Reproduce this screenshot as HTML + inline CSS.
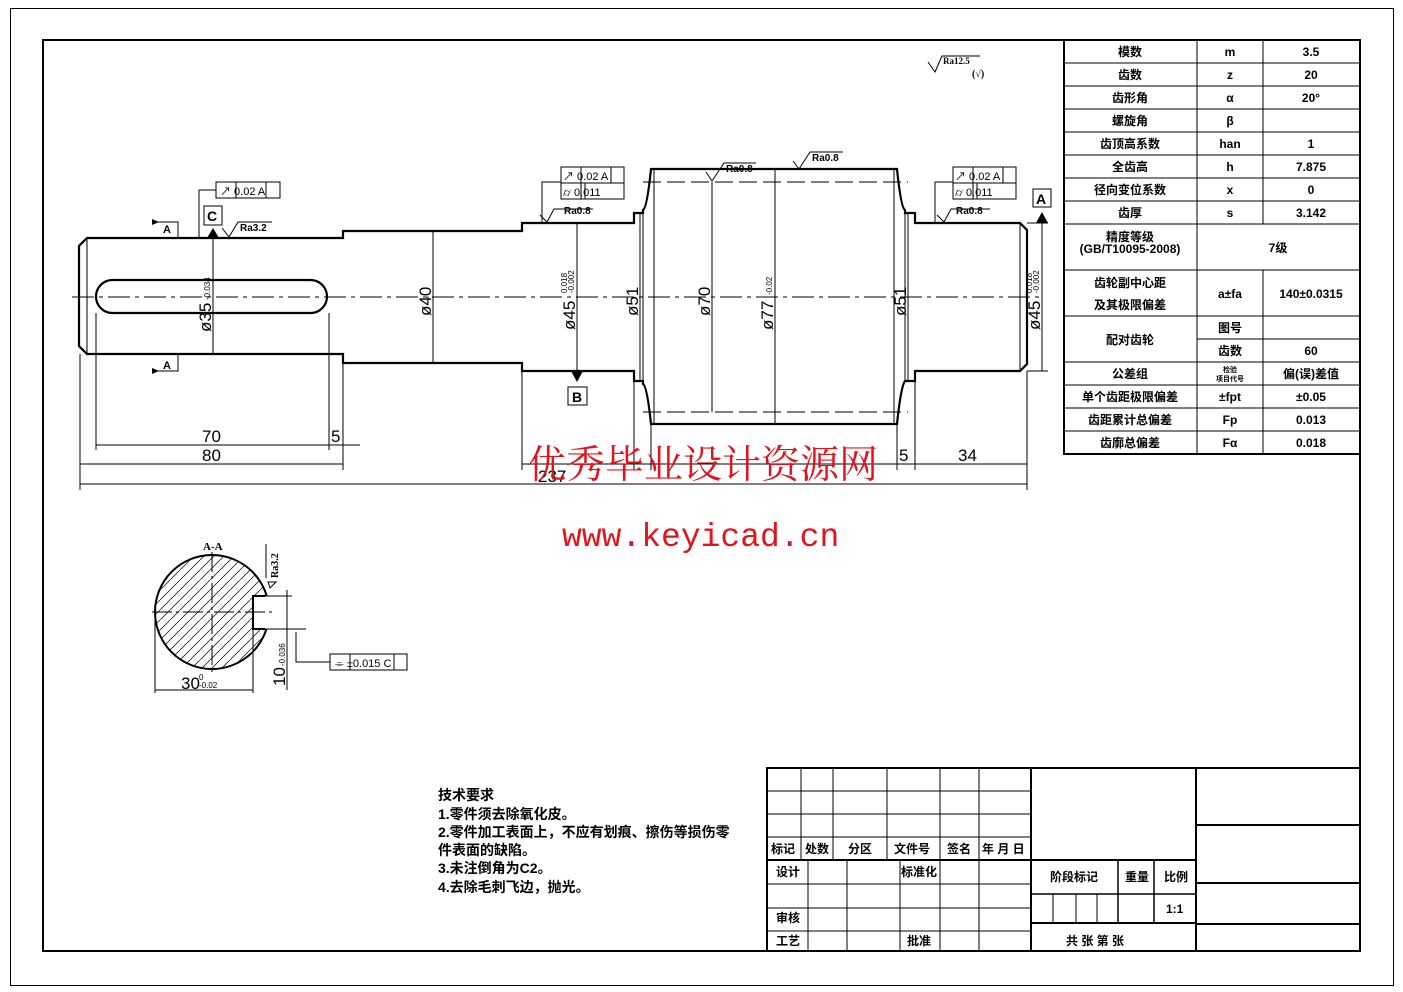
<!DOCTYPE html>
<html><head><meta charset="utf-8"><style>
html,body{margin:0;padding:0;background:#fff}
svg{display:block}
text{font-family:"Liberation Sans","Noto Sans CJK SC",sans-serif;fill:#000}
.b{font-weight:bold;font-family:"Liberation Serif","Noto Serif CJK SC","Noto Sans CJK SC",serif}
.t{font-size:12px;font-weight:bold;font-family:"Liberation Serif","Noto Sans CJK SC",sans-serif}
.d{font-size:17px}
</style></head><body>
<svg width="1403" height="992" viewBox="0 0 1403 992" xmlns="http://www.w3.org/2000/svg">
<rect x="0" y="0" width="1403" height="992" fill="#fff"/>
<rect x="10.5" y="8.5" width="1383" height="977" fill="none" stroke="#000" stroke-width="1"/>
<rect x="43" y="40" width="1317" height="911" fill="none" stroke="#000" stroke-width="2"/>

<!-- gear table -->
<g stroke="#000" fill="none">
<rect x="1064" y="40" width="296" height="414" stroke-width="2"/>
<g stroke-width="1">
<line x1="1197" y1="40" x2="1197" y2="454"/>
<line x1="1263" y1="40" x2="1263" y2="224"/>
<line x1="1263" y1="270" x2="1263" y2="454"/>
<line x1="1064" y1="63" x2="1360" y2="63"/><line x1="1064" y1="86" x2="1360" y2="86"/>
<line x1="1064" y1="109" x2="1360" y2="109"/><line x1="1064" y1="132" x2="1360" y2="132"/>
<line x1="1064" y1="155" x2="1360" y2="155"/><line x1="1064" y1="178" x2="1360" y2="178"/>
<line x1="1064" y1="201" x2="1360" y2="201"/><line x1="1064" y1="224" x2="1360" y2="224"/>
<line x1="1064" y1="270" x2="1360" y2="270"/><line x1="1064" y1="316" x2="1360" y2="316"/>
<line x1="1197" y1="339" x2="1360" y2="339"/><line x1="1064" y1="362" x2="1360" y2="362"/>
<line x1="1064" y1="385" x2="1360" y2="385"/><line x1="1064" y1="408" x2="1360" y2="408"/>
<line x1="1064" y1="431" x2="1360" y2="431"/>
</g></g>
<g class="t" text-anchor="middle">
<text x="1130" y="56">模数</text><text x="1230" y="56">m</text><text x="1311" y="56">3.5</text>
<text x="1130" y="79">齿数</text><text x="1230" y="79">z</text><text x="1311" y="79">20</text>
<text x="1130" y="102">齿形角</text><text x="1230" y="102">α</text><text x="1311" y="102">20°</text>
<text x="1130" y="125">螺旋角</text><text x="1230" y="125">β</text>
<text x="1130" y="148">齿顶高系数</text><text x="1230" y="148">han</text><text x="1311" y="148">1</text>
<text x="1130" y="171">全齿高</text><text x="1230" y="171">h</text><text x="1311" y="171">7.875</text>
<text x="1130" y="194">径向变位系数</text><text x="1230" y="194">x</text><text x="1311" y="194">0</text>
<text x="1130" y="217">齿厚</text><text x="1230" y="217">s</text><text x="1311" y="217">3.142</text>
<text x="1130" y="241">精度等级</text><text x="1130" y="253">(GB/T10095-2008)</text><text x="1278" y="252">7级</text>
<text x="1130" y="287">齿轮副中心距</text><text x="1130" y="309">及其极限偏差</text>
<text x="1230" y="298">a±fa</text><text x="1311" y="298">140±0.0315</text>
<text x="1130" y="344">配对齿轮</text><text x="1230" y="332">图号</text>
<text x="1230" y="355">齿数</text><text x="1311" y="355">60</text>
<text x="1130" y="378">公差组</text><text x="1230" y="372" style="font-size:7px">检验</text><text x="1230" y="381" style="font-size:7px">项目代号</text><text x="1311" y="378">偏(误)差值</text>
<text x="1130" y="401">单个齿距极限偏差</text><text x="1230" y="401">±fpt</text><text x="1311" y="401">±0.05</text>
<text x="1130" y="424">齿距累计总偏差</text><text x="1230" y="424">Fp</text><text x="1311" y="424">0.013</text>
<text x="1130" y="447">齿廓总偏差</text><text x="1230" y="447">Fα</text><text x="1311" y="447">0.018</text>
</g>

<g stroke="#000" fill="none" stroke-width="1">
<path d="M928 62 L935 72 L942 56 L980 56"/>
</g>
<text x="943" y="64" style="font-size:9px" class="b">Ra12.5</text>
<text x="972" y="77" style="font-size:10px" class="b">(√)</text>

<line x1="72" y1="297" x2="1040" y2="297" stroke="#000" stroke-width="1" stroke-dasharray="22,5,4,5"/>

<g stroke="#000" fill="none" stroke-width="2.2">
<path d="M87 238 L343 238 L343 231 L522 231 L522 223 L634 223 L634 213 L643 213 L643 210 Q647 208 651 169 L897 169 Q901 208 905 210 L905 213 L915 213 L915 223 L1020 223 L1027 230 L1027 364 L1020 371 L915 371 L915 381 L905 381 Q901 386 897 424 L651 424 Q647 386 643 384 L643 381 L634 381 L634 371 L522 371 L522 363 L343 363 L343 354 L87 354 L79 346 L79 246 Z"/>
<rect x="96" y="280" width="231" height="33" rx="16.5"/>
</g>
<g stroke="#000" fill="none" stroke-width="1">
<line x1="87" y1="238" x2="87" y2="354"/>
<line x1="654" y1="169" x2="654" y2="424"/><line x1="894" y1="169" x2="894" y2="424"/>
<line x1="643" y1="213" x2="643" y2="381"/><line x1="905" y1="213" x2="905" y2="381"/>
<line x1="1020" y1="223" x2="1020" y2="371"/>
<line x1="643" y1="182" x2="908" y2="182" stroke-dasharray="18,6"/>
<line x1="643" y1="412" x2="908" y2="412" stroke-dasharray="18,6"/>
<line x1="213" y1="238" x2="213" y2="354"/>
<line x1="433" y1="231" x2="433" y2="363"/>
<line x1="577" y1="223" x2="577" y2="371"/>
<line x1="640" y1="213" x2="640" y2="381"/>
<line x1="712" y1="182" x2="712" y2="412"/>
<line x1="775" y1="169" x2="775" y2="424"/>
<line x1="908" y1="213" x2="908" y2="381"/>
<line x1="1042" y1="223" x2="1042" y2="371"/>
<line x1="1027" y1="223" x2="1048" y2="223"/><line x1="1027" y1="371" x2="1048" y2="371"/>
<line x1="96" y1="313" x2="96" y2="450"/><line x1="329" y1="313" x2="329" y2="450"/>
<line x1="343" y1="363" x2="343" y2="470"/>
<line x1="80" y1="354" x2="80" y2="490"/>
<line x1="1027" y1="371" x2="1027" y2="490"/>
<line x1="522" y1="371" x2="522" y2="470"/>
<line x1="634" y1="381" x2="634" y2="470"/>
<line x1="651" y1="424" x2="651" y2="470"/>
<line x1="897" y1="424" x2="897" y2="470"/>
<line x1="915" y1="381" x2="915" y2="470"/>
<line x1="96" y1="445" x2="360" y2="445"/>
<line x1="80" y1="464" x2="343" y2="464"/>
<line x1="522" y1="464" x2="1027" y2="464"/>
<line x1="80" y1="484" x2="1027" y2="484"/>
<path d="M152 222 L178 222 L178 238"/><path d="M152 371 L178 371 L178 354"/>
<path d="M199 238 L199 190 L216 190"/>
<rect x="216" y="182" width="64" height="16"/><line x1="236" y1="182" x2="236" y2="198"/><line x1="266" y1="182" x2="266" y2="198"/>
<rect x="204" y="206" width="18" height="19"/>
<path d="M222 228 L229 237 L238 222 L272 222"/>
<path d="M542 222 L542 182 L561 182"/>
<rect x="561" y="167" width="63" height="32"/><line x1="561" y1="183" x2="624" y2="183"/>
<line x1="581" y1="167" x2="581" y2="199"/><line x1="611" y1="167" x2="611" y2="183"/><line x1="585" y1="183" x2="585" y2="199"/>
<path d="M540 215 L547 222 L554 209 L593 209"/>
<rect x="568" y="387" width="19" height="18"/>
<path d="M935 222 L935 182 L953 182"/>
<rect x="953" y="167" width="63" height="32"/><line x1="953" y1="183" x2="1016" y2="183"/>
<line x1="973" y1="167" x2="973" y2="199"/><line x1="1003" y1="167" x2="1003" y2="183"/><line x1="977" y1="183" x2="977" y2="199"/>
<path d="M937 215 L944 222 L951 209 L990 209"/>
<rect x="1033" y="189" width="18" height="18"/>
<path d="M706 172 L712 181 L724 163 L756 163"/>
<path d="M793 161 L799 169 L810 152 L843 152"/>
</g>
<g fill="#000">
<polygon points="207,238 213,228 219,238"/>
<polygon points="571,371 577,382 583,371"/>
<polygon points="1036,223 1042,212 1048,223"/>
<polygon points="152,219 159,222 152,225"/><polygon points="152,368 159,371 152,374"/>
</g>
<g class="b" style="font-size:11px">
<text x="163" y="233">A</text><text x="163" y="369">A</text>
<text x="207" y="221" style="font-size:14px">C</text>
<text x="572" y="402" style="font-size:14px">B</text>
<text x="1036" y="204" style="font-size:14px">A</text>
<text x="240" y="231" style="font-size:10px">Ra3.2</text>
<text x="564" y="214" style="font-size:10px">Ra0.8</text>
<text x="956" y="214" style="font-size:10px">Ra0.8</text>
<text x="726" y="172" style="font-size:10px">Ra0.8</text>
<text x="812" y="161" style="font-size:10px">Ra0.8</text>
</g>
<g style="font-size:11px">
<text x="220" y="195">↗ 0.02 A</text>
<text x="563" y="180">↗ 0.02 A</text><text x="563" y="196">⌭  0.011</text>
<text x="955" y="180">↗ 0.02 A</text><text x="955" y="196">⌭  0.011</text>
</g>
<g class="d">
<text transform="translate(211,332) rotate(-90)">ø35</text>
<text transform="translate(431,316) rotate(-90)">ø40</text>
<text transform="translate(575,330) rotate(-90)">ø45</text>
<text transform="translate(638,316) rotate(-90)">ø51</text>
<text transform="translate(710,316) rotate(-90)">ø70</text>
<text transform="translate(773,330) rotate(-90)">ø77</text>
<text transform="translate(906,316) rotate(-90)">ø51</text>
<text transform="translate(1040,330) rotate(-90)">ø45</text>
<text x="202" y="442">70</text><text x="331" y="442">5</text>
<text x="202" y="461">80</text>
<text x="899" y="461">5</text><text x="958" y="461">34</text>
<text x="538" y="482">237</text>
</g>
<g style="font-size:8px">
<text transform="translate(210,300) rotate(-90)">-0.034</text>
<text transform="translate(574,293) rotate(-90)">-0.002</text>
<text transform="translate(574,293) rotate(-90) translate(0,-7)">0.018</text>
<text transform="translate(1039,293) rotate(-90)">-0.002</text>
<text transform="translate(1039,293) rotate(-90) translate(0,-7)">0.018</text>
<text transform="translate(772,295) rotate(-90)">-0.02</text>
</g>

<defs><clipPath id="cc"><path d="M253 596 L272 596 L272 629 L253 629 Z M140 540 L280 540 L280 690 L140 690 Z" clip-rule="evenodd"/></clipPath>
<pattern id="h" patternUnits="userSpaceOnUse" width="10" height="10"><path d="M0 10 L10 0" stroke="#000" stroke-width="0.7"/></pattern></defs>
<g clip-path="url(#cc)">
<circle cx="212" cy="612" r="57" fill="url(#h)" stroke="#000" stroke-width="2"/>
</g>
<g stroke="#000" fill="none" stroke-width="1">
<path d="M265 596 L253 596 L253 629 L265 629" stroke-width="2"/>
<line x1="152" y1="612" x2="275" y2="612" stroke-dasharray="20,4,3,4"/>
<line x1="212" y1="552" x2="212" y2="672" stroke-dasharray="20,4,3,4"/>
<line x1="155" y1="612" x2="155" y2="693"/><line x1="253" y1="629" x2="253" y2="693"/>
<line x1="155" y1="690" x2="253" y2="690"/>
<line x1="262" y1="596" x2="292" y2="596"/><line x1="262" y1="629" x2="306" y2="629"/>
<line x1="287" y1="590" x2="287" y2="690"/>
<path d="M296 632 L296 662 L330 662"/>
<rect x="330" y="654" width="77" height="16"/><line x1="350" y1="654" x2="350" y2="670"/><line x1="394" y1="654" x2="394" y2="670"/>
<path d="M268 582 L276 582 L270 588 Z M266 578 L266 544"/>
</g>
<text x="203" y="550" class="b" style="font-size:11px">A-A</text>
<text transform="translate(278,578) rotate(-90)" class="b" style="font-size:10px">Ra3.2</text>
<text x="181" y="689" class="d">30</text><text x="199" y="680" style="font-size:8px">0</text><text x="199" y="688" style="font-size:8px">-0.02</text>
<text transform="translate(285,686) rotate(-90)" class="d">10</text>
<text transform="translate(285,666) rotate(-90)" style="font-size:8px">-0.036</text>
<text x="335" y="667" style="font-size:11px">⌯  ±0.015 C</text>

<text x="527" y="478" style="font-size:39px;fill:#e0141e;font-family:'Noto Serif CJK SC','Noto Sans CJK SC',serif">优秀毕业设计资源网</text>
<text x="562" y="546" style="font-size:33px;fill:#e0141e;font-family:'Liberation Mono',monospace">www.keyicad.cn</text>

<g class="t" style="font-size:14px">
<text x="438" y="800">技术要求</text>
<text x="438" y="819">1.零件须去除氧化皮。</text>
<text x="438" y="837">2.零件加工表面上，不应有划痕、擦伤等损伤零</text>
<text x="438" y="855">件表面的缺陷。</text>
<text x="438" y="873">3.未注倒角为C2。</text>
<text x="438" y="892">4.去除毛刺飞边，抛光。</text>
</g>

<g stroke="#000" fill="none">
<rect x="767" y="768" width="593" height="183" stroke-width="2"/>
<line x1="1031" y1="768" x2="1031" y2="951" stroke-width="2"/>
<line x1="1196" y1="768" x2="1196" y2="951" stroke-width="2"/>
<line x1="767" y1="860" x2="1031" y2="860" stroke-width="2"/>
<g stroke-width="1">
<line x1="767" y1="791" x2="1031" y2="791"/><line x1="767" y1="814" x2="1031" y2="814"/><line x1="767" y1="837" x2="1031" y2="837"/>
<line x1="801" y1="768" x2="801" y2="860"/><line x1="833" y1="768" x2="833" y2="860"/><line x1="887" y1="768" x2="887" y2="860"/>
<line x1="940" y1="768" x2="940" y2="860"/><line x1="979" y1="768" x2="979" y2="860"/>
<line x1="767" y1="884" x2="1031" y2="884"/><line x1="767" y1="908" x2="1031" y2="908"/><line x1="767" y1="931" x2="1031" y2="931"/>
<line x1="808" y1="860" x2="808" y2="951"/><line x1="847" y1="860" x2="847" y2="951"/><line x1="900" y1="860" x2="900" y2="951"/>
<line x1="940" y1="860" x2="940" y2="951"/><line x1="979" y1="860" x2="979" y2="951"/>
</g>
<line x1="1031" y1="860" x2="1196" y2="860" stroke-width="2"/>
<line x1="1031" y1="894" x2="1196" y2="894" stroke-width="1.5"/>
<line x1="1031" y1="923" x2="1196" y2="923" stroke-width="2"/>
<line x1="1118" y1="860" x2="1118" y2="923" stroke-width="1.5"/>
<line x1="1154" y1="860" x2="1154" y2="923" stroke-width="1.5"/>
<g stroke-width="1"><line x1="1053" y1="894" x2="1053" y2="923"/><line x1="1076" y1="894" x2="1076" y2="923"/><line x1="1097" y1="894" x2="1097" y2="923"/></g>
<line x1="1196" y1="825" x2="1360" y2="825" stroke-width="2"/>
<line x1="1196" y1="883" x2="1360" y2="883" stroke-width="2"/>
<line x1="1196" y1="924" x2="1360" y2="924" stroke-width="2"/>
</g>
<g class="t">
<text x="771" y="853">标记</text><text x="805" y="853">处数</text><text x="848" y="853">分区</text>
<text x="894" y="853">文件号</text><text x="947" y="853">签名</text><text x="982" y="853">年 月 日</text>
<text x="776" y="876">设计</text><text x="901" y="876">标准化</text>
<text x="776" y="922">审核</text><text x="776" y="945">工艺</text><text x="907" y="945">批准</text>
<text x="1050" y="881">阶段标记</text><text x="1125" y="881">重量</text><text x="1164" y="881">比例</text>
<text x="1166" y="913">1:1</text>
<text x="1066" y="945">共  张    第  张</text>
</g>
</svg>
</body></html>
